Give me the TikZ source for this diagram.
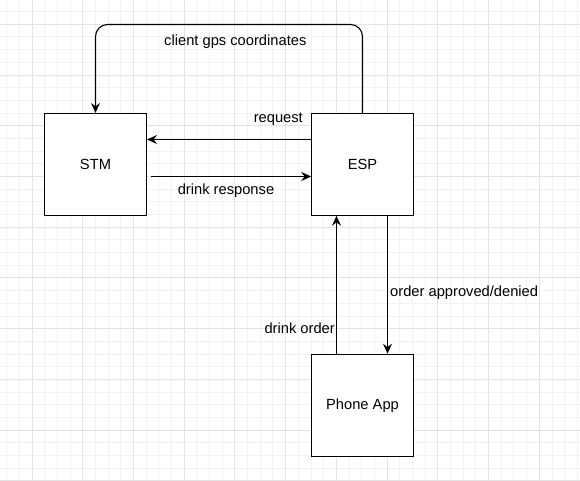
\documentclass[tikz,border=0pt]{standalone}
\usepackage{fontspec}
\setmainfont{Liberation Sans}
\usetikzlibrary{arrows.meta}
\definecolor{minorgrid}{HTML}{F2F2F2}
\definecolor{majorgrid}{HTML}{E3E3E3}
\tikzset{
  box/.style={draw=black, line width=1.1pt, fill=white, minimum width=101.5pt, minimum height=101.5pt, inner sep=0pt, font=\fontsize{14.7}{17}\selectfont},
  lbl/.style={inner sep=0pt, font=\fontsize{14.7}{17}\selectfont},
  arr/.style={draw=black, line width=1.1pt, -{Stealth[length=10pt,width=9pt,inset=3.5pt]}}
}
\begin{document}
\begin{tikzpicture}[x=1pt,y=-1pt]
\useasboundingbox (0,0) rectangle (580,480);
\fill[white] (0,0) rectangle (580,480);
% minor grid
\foreach \i in {0,...,46} {
  \draw[minorgrid, line width=1pt] ({6.64+\i*12.683},0) -- ({6.64+\i*12.683},480);
}
\foreach \i in {0,...,38} {
  \draw[minorgrid, line width=1pt] (0,{-1.08+\i*12.683}) -- (580,{-1.08+\i*12.683});
}
% major grid
\foreach \i in {0,...,11} {
  \draw[majorgrid, line width=1pt] ({32+\i*50.73},0) -- ({32+\i*50.73},480);
}
\foreach \i in {0,...,9} {
  \draw[majorgrid, line width=1pt] (0,{24.3+\i*50.73}) -- (580,{24.3+\i*50.73});
}
% nodes
\node[box, minimum width=102pt, minimum height=102pt] (stm) at (95.5,164.5) {STM};
\node[box] (esp) at (362.5,164.5) {ESP};
\node[box, minimum height=102.5pt] (phone) at (362.5,405.5) {Phone App};
\coordinate (top) at (229,24.5);
% connectors
\draw[arr, rounded corners=12pt] (esp.north) |- (top) -| (stm.north);
\draw[arr] ([yshift=25pt]esp.west) -- ([yshift=25pt]stm.east);
\draw[arr] ([xshift=4pt,yshift=-12pt]stm.east) -- ([yshift=-12pt]esp.west);
\draw[arr] ([xshift=-26pt]phone.north) -- ([xshift=-26pt]esp.south);
\draw[arr] ([xshift=25pt]esp.south) -- ([xshift=25pt]phone.north);
% labels
\node[lbl] (l1) at (235.3,42) {client gps coordinates};
\node[lbl, anchor=east] (l2) at (303,119) {request};
\node[lbl] (l3) at (226,190.7) {drink response};
\node[lbl, anchor=east] (l4) at (335,328) {drink order};
\node[lbl, anchor=west] (l5) at (390,292.7) {order approved/denied};
\end{tikzpicture}
\end{document}
